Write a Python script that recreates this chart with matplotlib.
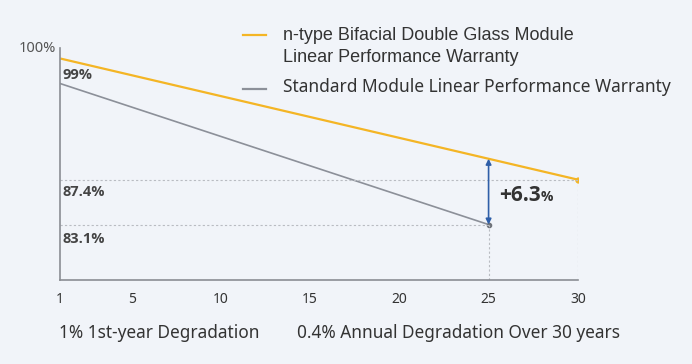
import matplotlib.pyplot as plt

ntype_years = [1, 30]
ntype_vals = [99.0, 87.4]
std_years = [1, 25]
std_vals = [96.6, 83.1]
xticks = [1, 5, 10, 15, 20, 25, 30]
gain_year = 25
gain_top = 89.4  # n-type at year 25

gold = "#f4b525"
grey = "#8c9099"
blue = "#2f5fa8"
dots = "#b9bcc2"

fig = plt.figure(figsize=(6.92, 3.64), dpi=100)
fig.patch.set_facecolor("#f1f4f9")
ax = fig.add_axes([0.087, 0.231, 0.748, 0.637])
ax.set_facecolor("none")

ax.plot(ntype_years, ntype_vals, color=gold, lw=1.6, solid_capstyle="butt")
ax.plot(std_years, std_vals, color=grey, lw=1.2)
ax.plot(30, ntype_vals[1], "o", color=gold, ms=3.5)
ax.plot(25, std_vals[1], "o", color="#6f737a", ms=3)

ax.plot([1, 30], [ntype_vals[1]] * 2, ls=(0, (2, 2)), color=dots, lw=0.8)
ax.plot([1, 25], [std_vals[1]] * 2, ls=(0, (2, 2)), color=dots, lw=0.8)
ax.plot([30, 30], [77.8, ntype_vals[1]], ls=(0, (2, 2)), color=dots, lw=0.8)
ax.plot([25, 25], [77.8, std_vals[1]], ls=(0, (2, 2)), color=dots, lw=0.8)

ax.annotate("", xy=(gain_year, gain_top), xytext=(gain_year, std_vals[1]),
            arrowprops=dict(arrowstyle="<|-|>", color=blue, lw=1.2,
                            mutation_scale=8, shrinkA=0, shrinkB=0))
t = ax.text(25.6, 85.9, "+6.3", fontsize=15, fontweight="bold",
            color="#333333", va="center", ha="left", family="Open Sans")
ax.annotate("%", xy=(1, 0), xycoords=t, xytext=(-0.5, 1.3),
            textcoords="offset points", fontsize=10, fontweight="bold",
            color="#333333", va="bottom", ha="left", family="Open Sans")

for v, y in [("99%", 97.4), ("87.4%", 86.2), ("83.1%", 81.7)]:
    ax.text(1.15, y, v, fontsize=10.5, fontweight="bold", color="#444444",
            va="center", ha="left", family="Open Sans")

ax.set_xlim(1, 30)
ax.set_ylim(77.8, 100)
ax.set_xticks(xticks)
ax.set_xticklabels([str(t) for t in xticks], family="Noto Sans",
                   fontsize=10, color="#333333")
ax.set_yticks([])
ax.tick_params(axis="x", length=0, pad=9)
for s in ["top", "right"]:
    ax.spines[s].set_visible(False)
ax.spines["left"].set_color("#8a8d93")
ax.spines["bottom"].set_color("#8a8d93")
ax.spines["left"].set_linewidth(1.2)
ax.spines["bottom"].set_linewidth(1.2)

fig.text(56 / 692, 1 - 49 / 364, "100%", ha="right", va="center",
         fontsize=10.5, color="#555555", family="Noto Sans")

# legend
fig.add_artist(plt.Line2D([243 / 692, 266 / 692], [1 - 35 / 364] * 2,
                          color=gold, lw=1.6))
fig.add_artist(plt.Line2D([243 / 692, 266 / 692], [1 - 89 / 364] * 2,
                          color=grey, lw=1.6))
fig.text(283 / 692, 1 - 35 / 364, "n-type Bifacial Double Glass Module",
         fontsize=13, color="#333333", va="center", family="Liberation Sans")
fig.text(283 / 692, 1 - 58 / 364, "Linear Performance Warranty",
         fontsize=13, color="#333333", va="center", family="Liberation Sans")
fig.text(283 / 692, 1 - 87 / 364, "Standard Module Linear Performance Warranty",
         fontsize=12.5, color="#333333", va="center", family="Noto Sans")

fig.text(59 / 692, 1 - 333 / 364, "1% 1st-year Degradation",
         fontsize=12.4, color="#333333", va="center", family="Noto Sans")
fig.text(297 / 692, 1 - 333 / 364, "0.4% Annual Degradation Over 30 years",
         fontsize=12.4, color="#333333", va="center", family="Noto Sans")

fig.savefig("out.png", dpi=100, facecolor=fig.get_facecolor())
